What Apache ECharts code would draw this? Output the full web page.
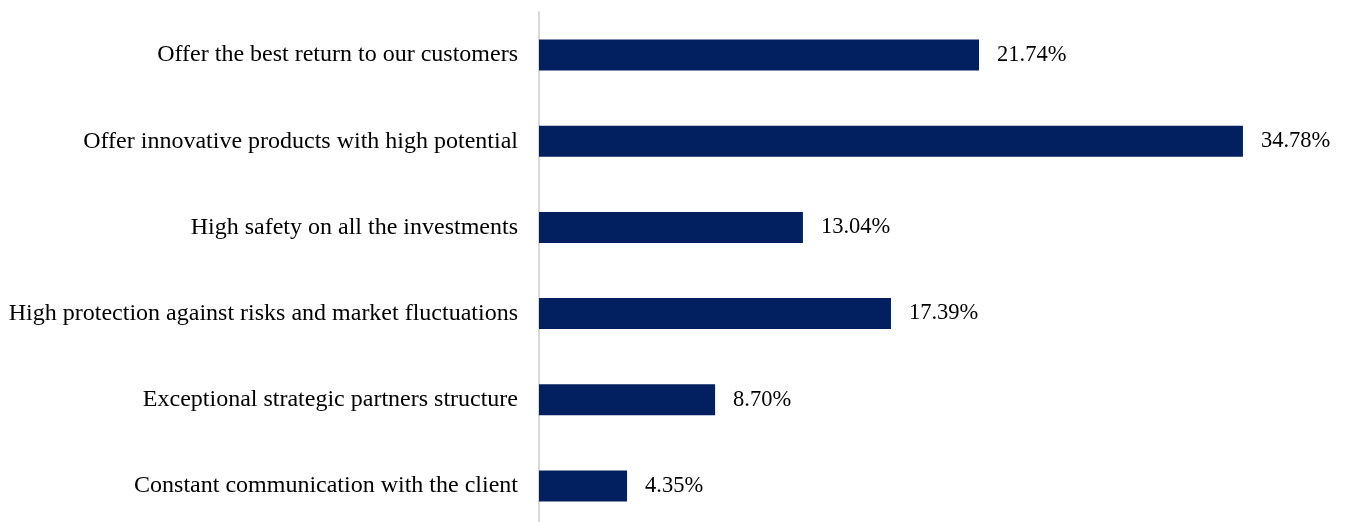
<!DOCTYPE html>
<html>
<head>
<meta charset="utf-8">
<script src="https://cdn.jsdelivr.net/npm/echarts@6/dist/echarts.min.js"></script>
<style>
  html, body { margin: 0; padding: 0; background: #ffffff; overflow: hidden; }
  #chart { width: 1347px; height: 532px; }
</style>
</head>
<body>
<div id="chart"></div>
<script>
// Categories listed top to bottom
const categories = [
  'Offer the best return to our customers',
  'Offer innovative products with high potential',
  'High safety on all the investments',
  'High protection against risks and market fluctuations',
  'Exceptional strategic partners structure',
  'Constant communication with the client'
];
// Share of respondents (%)
const shares = [21.74, 34.78, 13.04, 17.39, 8.70, 4.35];

const font = '"Liberation Serif", "Times New Roman", serif';
const chart = echarts.init(document.getElementById('chart'));

// The plot runs slightly past the lower edge of the visible page
chart.setOption({
  animation: false,
  backgroundColor: '#ffffff',
  grid: { left: 539, top: 12, width: 708.4, height: 517, containLabel: false },
  xAxis: {
    type: 'value',
    min: 0,
    max: 35,
    show: false
  },
  yAxis: {
    type: 'category',
    inverse: true,
    data: categories,
    axisLine: { show: true, lineStyle: { color: '#d9d9d9', width: 2 } },
    axisTick: { show: false },
    splitLine: { show: false },
    axisLabel: {
      margin: 21,
      color: '#000000',
      fontFamily: font,
      fontSize: 24
    }
  },
  series: [{
    type: 'bar',
    data: shares,
    barWidth: 31,
    itemStyle: { color: '#02205f' },
    label: {
      show: true,
      position: 'right',
      distance: 18,
      color: '#000000',
      fontFamily: font,
      fontSize: 22.5,
      formatter: p => p.value.toFixed(2) + '%'
    }
  }]
});
</script>
</body>
</html>
